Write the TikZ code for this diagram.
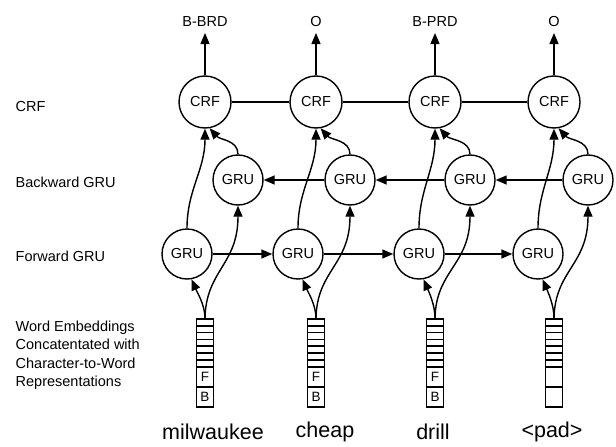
\documentclass[tikz,border=0pt]{standalone}
\usepackage{fontspec}
\setmainfont{Liberation Sans}
\usetikzlibrary{arrows.meta}
\begin{document}
\begin{tikzpicture}[x=1pt,y=-1pt,
  every path/.style={line width=1.4pt},
  crfnode/.style={circle, draw, line width=1.4pt, minimum size=52pt, inner sep=0pt, font=\fontsize{14.5}{16}\selectfont},
  grunode/.style={circle, draw, line width=1.4pt, minimum size=50pt, inner sep=0pt, font=\fontsize{14.5}{16}\selectfont},
  arr/.style={line width=1.4pt, -{Triangle[length=11pt,width=9pt]}},
  conn/.style={line width=1.4pt},
  sidelbl/.style={anchor=west, inner sep=0pt, align=left, font=\fontsize{14.5}{18.5}\selectfont},
  toplbl/.style={inner sep=0pt, font=\fontsize{14.5}{16}\selectfont},
  wordlbl/.style={inner sep=0pt, font=\fontsize{21.5}{24}\selectfont},
  embbar/.style={draw, line width=1.5pt, minimum width=17pt, minimum height=88pt, inner sep=0pt},
  celllbl/.style={inner sep=0pt, font=\fontsize{13.5}{15}\selectfont}
]
\useasboundingbox (0,0) rectangle (616,447);

% side labels
\node[sidelbl] (lcrf) at (15,107) {CRF};
\node[sidelbl] (lbgru) at (15,182) {Backward GRU};
\node[sidelbl] (lfgru) at (15,256) {Forward GRU};
\node[sidelbl] (lemb) at (15,355) {Word Embeddings\\Concatentated with\\Character-to-Word\\Representations};

\foreach \i/\x/\fx/\bx/\tag/\wx/\word in {1/205/187/238/B-BRD/213/milwaukee, 2/316/298/350/O/325/cheap, 3/435/419/470/B-PRD/433/drill, 4/554/538/588/O/552/{<pad>}}{
  \node[crfnode] (c\i) at (\x,102) {CRF};
  \node[grunode] (b\i) at (\bx,180) {GRU};
  \node[grunode] (f\i) at (\fx,254) {GRU};
  \node[embbar] (e\i) at (\x,363) {};
  \foreach \yy in {325.8,332.6,339.4,346.2,353.0,359.8,366.7,386.7}{
    \draw[line width=1.7pt] (\x-8.5,\yy) -- (\x+8.5,\yy);
  }
  \node[toplbl] (t\i) at (\x,22) {\tag};
  \coordinate (tp\i) at (\x,33);
  \node[wordlbl] (w\i) at (\wx,432) {\word};
  \draw[arr] (c\i.north) -- (tp\i);
  \draw[arr] (e\i.north) .. controls (\x,305) and (\fx+10,292) .. (f\i.-80);
  \draw[arr] (e\i.north) .. controls (\x+1,270) and (\bx,265) .. (b\i.south);
  \draw[arr] (f\i.north) .. controls (\fx,190) and (\x,170) .. (c\i.south);
  \draw[arr] (b\i.north) .. controls (\bx,140) and (\x+15,140) .. (c\i.-80);
}
\foreach \i in {1,2,3}{
  \node[celllbl] (F\i) at (e\i.center |- 0,376.7) {F};
  \node[celllbl] (B\i) at (e\i.center |- 0,396.7) {B};
}

% horizontal connections
\draw[conn] (c1) -- (c2);
\draw[conn] (c2) -- (c3);
\draw[conn] (c3) -- (c4);
\draw[arr] (f1) -- (f2);
\draw[arr] (f2) -- (f3);
\draw[arr] (f3) -- (f4);
\draw[arr] (b2) -- (b1);
\draw[arr] (b3) -- (b2);
\draw[arr] (b4) -- (b3);
\end{tikzpicture}
\end{document}
